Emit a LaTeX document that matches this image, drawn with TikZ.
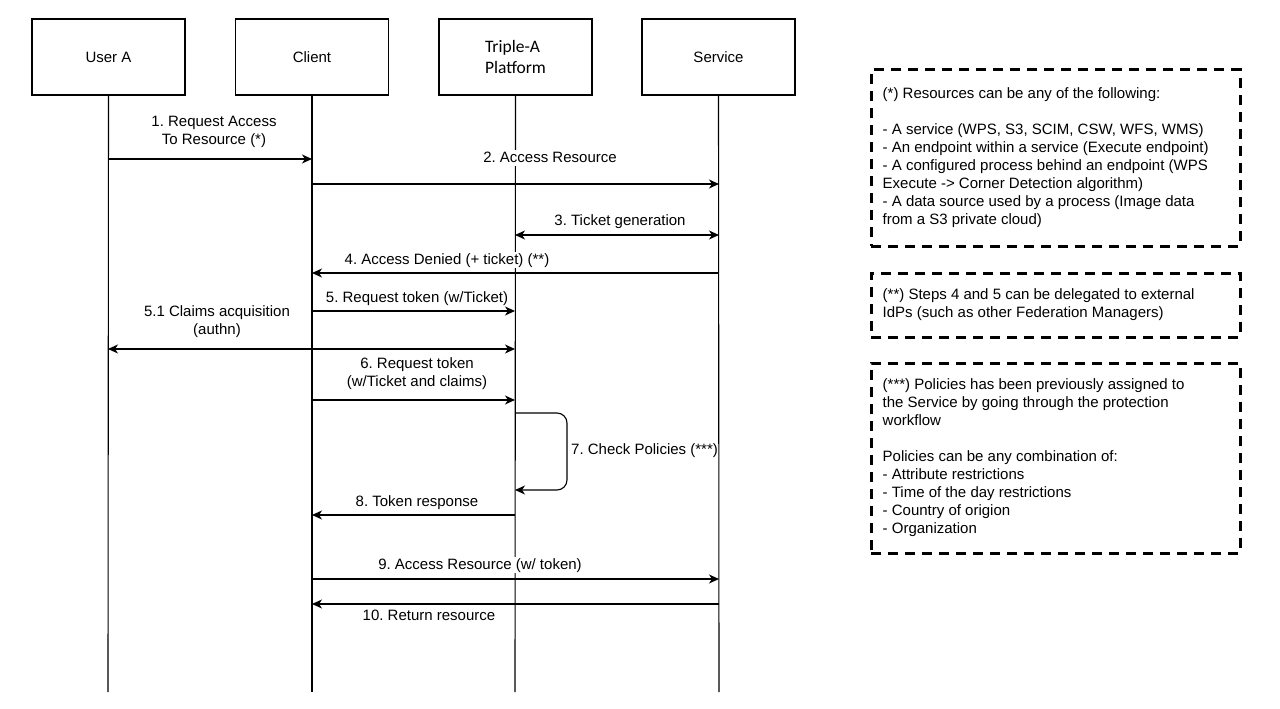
\documentclass[tikz,border=0pt]{standalone}
\usepackage{fontspec}
\setmainfont{Liberation Sans}
\newfontfamily\platformfont{Carlito}
\usetikzlibrary{arrows.meta}

\tikzset{
  txt/.style={font=\fontsize{15}{18}\selectfont},
  actor/.style={draw, line width=1.2pt, minimum width=153pt, minimum height=76pt, txt, inner sep=0pt},
  lifeline/.style={line width=1.1pt},
  msg/.style={line width=1.1pt, -{Stealth[length=10pt,width=9pt,inset=3pt]}},
  msgboth/.style={line width=1.1pt, {Stealth[length=10pt,width=9pt,inset=3pt]}-{Stealth[length=10pt,width=9pt,inset=3pt]}},
  lbl/.style={txt, fill=white, inner sep=1pt, text height=11pt, text depth=3pt},
  lbltwo/.style={txt, fill=white, inner sep=1pt, align=center},
  notebox/.style={draw, line width=3pt, dash pattern=on 10pt off 7pt, minimum width=369pt},
  notetext/.style={txt, align=left, inner sep=0pt, anchor=west},
}

\begin{document}
\frenchspacing
\begin{tikzpicture}[x=1pt, y=-1pt]
\useasboundingbox (0,0) rectangle (1280,709);

% participants
\node[actor] (ua) at (108.5,57) {User A};
\node[actor] (cl) at (312,57) {Client};
\node[actor, font=\platformfont\fontsize{17.5}{21}\selectfont, align=left] (tp) at (515.5,57) {Triple-A\\Platform};
\node[actor] (sv) at (718.5,57) {Service};

% lifeline ends
\coordinate (uaE) at (108,692);
\coordinate (clE) at (312,692);
\coordinate (tpE) at (515,692);
\coordinate (svE) at (719,692);

\draw[lifeline] (ua.south) -- (uaE);
\draw[lifeline] (cl.south) -- (clE);
\draw[lifeline] (tp.south) -- (tpE);
\draw[lifeline] (sv.south) -- (svE);

% message end points on the lifelines
\coordinate (m1a) at (108,159);  \coordinate (m1b) at (312,159);
\coordinate (m2a) at (312,184);  \coordinate (m2b) at (719,184);
\coordinate (m3a) at (515,235);  \coordinate (m3b) at (719,235);
\coordinate (m4a) at (719,273);  \coordinate (m4b) at (312,273);
\coordinate (m5a) at (312,311);  \coordinate (m5b) at (515,311);
\coordinate (m51a) at (108,349); \coordinate (m51b) at (515,349);
\coordinate (m6a) at (312,400);  \coordinate (m6b) at (515,400);
\coordinate (m7a) at (515,413);  \coordinate (m7b) at (515,490);
\coordinate (m8a) at (515,515);  \coordinate (m8b) at (312,515);
\coordinate (m9a) at (312,579);  \coordinate (m9b) at (719,579);
\coordinate (m10a) at (719,604); \coordinate (m10b) at (312,604);

% messages
\draw[msg] (m1a) -- (m1b);
\draw[msg] (m2a) -- (m2b);
\draw[msgboth] (m3a) -- (m3b);
\draw[msg] (m4a) -- (m4b);
\draw[msg] (m5a) -- (m5b);
\draw[msgboth] (m51a) -- (m51b);
\draw[msg] (m6a) -- (m6b);
\draw[msg, rounded corners=10pt] (m7a) -- ++(52,0) -- ++(0,77) -- (m7b);
\draw[msg] (m8a) -- (m8b);
\draw[msg] (m9a) -- (m9b);
\draw[msg] (m10a) -- (m10b);

% message labels
\node[lbltwo] (l1) at (214,132) {1. Request Access\\To Resource (*)};
\node[lbl] (l2) at (550,158) {2. Access Resource};
\node[lbl] (l3) at (620,221) {3. Ticket generation};
\node[lbl] (l4) at (447,260) {4. Access Denied (+ ticket) (**)};
\node[lbl] (l5) at (417,298) {5. Request token (w/Ticket)};
\node[lbltwo] (l51) at (217,322) {5.1 Claims acquisition\\(authn)};
\node[lbltwo] (l6) at (417,374) {6. Request token\\(w/Ticket and claims)};
\node[txt, anchor=west, inner sep=0pt] (l7) at (571,451) {7. Check Policies (***)};
\node[lbl] (l8) at (417,502) {8. Token response};
\node[lbl] (l9) at (480,565) {9. Access Resource (w/ token)};
\node[lbl] (l10) at (429,616) {10. Return resource};

% notes
\node[notebox, minimum height=176pt] (n1) at (1055.5,158) {};
\node[notetext] (n1t) at ([xshift=13pt]n1.west) {(*) Resources can be any of the following:\\[18pt]
- A service (WPS, S3, SCIM, CSW, WFS, WMS)\\
- An endpoint within a service (Execute endpoint)\\
- A configured process behind an endpoint (WPS\\
Execute -> Corner Detection algorithm)\\
- A data source used by a process (Image data\\
from a S3 private cloud)};

\node[notebox, minimum height=64pt] (n2) at (1055.5,305) {};
\node[notetext] (n2t) at ([xshift=13pt]n2.west) {(**) Steps 4 and 5 can be delegated to external\\
IdPs (such as other Federation Managers)};

\node[notebox, minimum height=190pt] (n3) at (1055.5,458) {};
\node[notetext] (n3t) at ([xshift=13pt]n3.west) {(***) Policies has been previously assigned to\\
the Service by going through the protection\\
workflow\\[18pt]
Policies can be any combination of:\\
- Attribute restrictions\\
- Time of the day restrictions\\
- Country of origion\\
- Organization};
\end{tikzpicture}
\end{document}
